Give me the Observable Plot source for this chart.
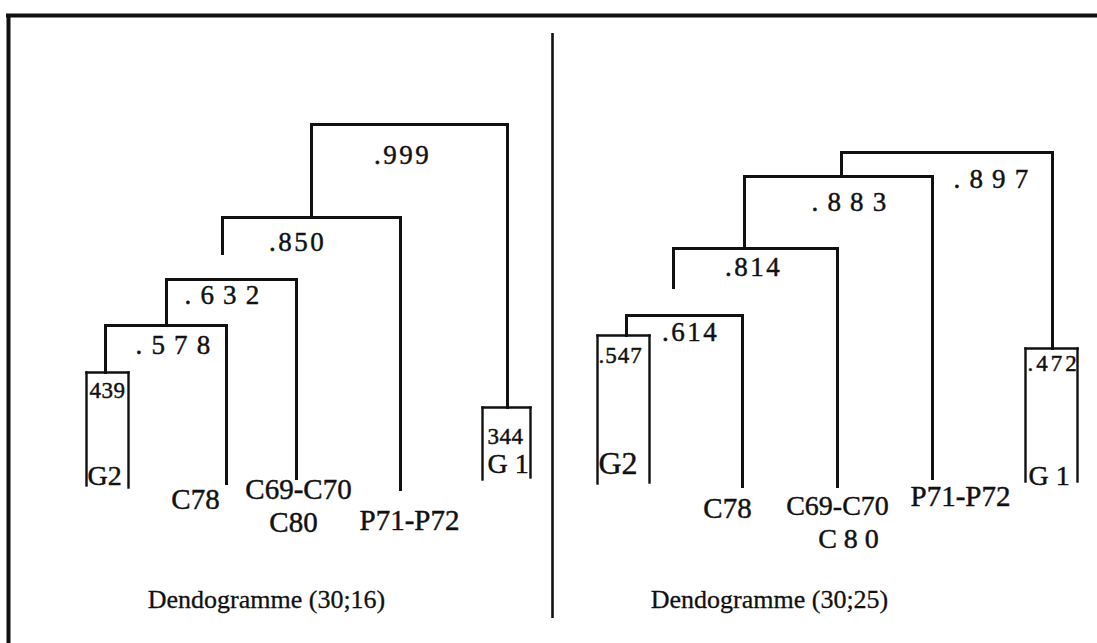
<!DOCTYPE html>
<html>
<head>
<meta charset="utf-8">
<script src="https://cdn.jsdelivr.net/npm/d3@7"></script>
<script src="https://cdn.jsdelivr.net/npm/@observablehq/plot@0.6"></script>
<style>
  html, body { margin: 0; padding: 0; background: #fff; }
  #chart svg { display: block; }
</style>
</head>
<body>
<div id="chart"></div>
<script>
// ================= DATA =================
const titles = ["Dendogramme (30;16)", "Dendogramme (30;25)"];

// ---- Panel 1 : Dendogramme (30;16) ----
// leaf legs: id, horizontal slot, lower end (drawing units)
const p1LegIds  = ["G2a", "G2b", "C78", "C69", "P71", "G1a", "G1b"];
const p1LegPos  = [86, 128, 226, 296, 400, 482, 530];
const p1LegEnd  = [485, 487, 483, 478, 489, 479, 477];
// merges: id, value, level, children, stem position, stem end
const p1NodeIds = ["G2", "n578", "n632", "n850", "G1", "n999"];
const p1Values  = ["439", ". 5 7 8", ". 6 3 2", ".850", "344", ".999"];
const p1Level   = [372, 325, 279, 217, 407, 124];
const p1Left    = ["G2a", "G2", "n578", "n632", "G1a", "n850"];
const p1Right   = ["G2b", "C78", "C69", "P71", "G1b", "G1"];
const p1Stem    = [105, 166, 222, 311, 507, null];
const p1StemEnd = [null, null, 253, null, null, null];
// leaf labels and the leg each is attached to
const p1Leaves  = ["G2", "C78", "C69-C70", "C80", "P71-P72", "G 1"];
const p1LeafLeg = ["G2a", "C78", "C69", "C69", "P71", "G1a"];

// ---- Panel 2 : Dendogramme (30;25) ----
const p2LegIds  = ["G2a", "G2b", "C78", "C69", "P71", "G1a", "G1b"];
const p2LegPos  = [597, 649, 742, 837, 932, 1025, 1077];
const p2LegEnd  = [483, 482, 486, 486, 478, 481, 481];
const p2NodeIds = ["G2", "n614", "n814", "n883", "G1", "n897"];
const p2Values  = [".547", ".614", ".814", ". 8 8 3", ".472", ". 8 9 7"];
const p2Level   = [335, 315, 248, 176, 348, 152];
const p2Left    = ["G2a", "G2", "n614", "n814", "G1a", "n883"];
const p2Right   = ["G2b", "C78", "C69", "P71", "G1b", "G1"];
const p2Stem    = [626, 673, 744, 841, 1052, null];
const p2StemEnd = [null, 287, null, null, null, null];
const p2Leaves  = ["G2", "C78", "C69-C70", "C 8 0", "P71-P72", "G 1"];
const p2LeafLeg = ["G2a", "C78", "C69", "C69", "P71", "G1a"];

// ================= LAYOUT / STYLE (placement only) =================
const W = 1097, H = 643;
const frame = {left: 8, top: 15, dividerX: 552, dividerTop: 33, dividerBottom: 618};
const titleX = [266, 769], titleBaseline = 607;
// value-label nudges [dx, dy] per merge (dy from merge level to baseline)
const p1ValueNudge = [[3, 25], [7.5, 28], [-9, 24], [-14, 33], [5, 36], [-7, 39]];
const p2ValueNudge = [[1, 27], [6, 25], [-2, 27], [11, 34], [2, 22], [44.5, 35]];
// leaf-label nudges [dx, dy] (dy from leg end to baseline)
const p1LeafNudge = [[1, -1], [-31, 25], [2, 20], [-3, 53], [9, 40], [5, -7]];
const p2LeafNudge = [[1, -10], [-15, 31], [0, 28], [11, 61], [28, 27], [3, 3]];
const leafSize1 = [28, 29, 29, 29, 29, 28];
const leafSize2 = [32, 29, 28, 28, 29, 28];
const boxSpacing = {"439": 0.5, "344": 0.5, ".547": 1, ".472": 3};

function buildPanel(P) {
  const xs = new Map(), ends = new Map(), legs = new Set(P.legIds);
  P.legIds.forEach((id, i) => { xs.set(id, P.legPos[i]); ends.set(id, P.legEnd[i]); });
  P.nodeIds.forEach((id, i) => {
    if (P.stem[i] != null) xs.set(id, P.stem[i]);
    ends.set(id, P.stemEnd[i] ?? P.level[i]);
  });
  const segs = [], values = [], leaves = [];
  P.nodeIds.forEach((id, i) => {
    const a = P.left[i], b = P.right[i], lv = P.level[i];
    const xa = xs.get(a), xb = xs.get(b);
    const box = legs.has(a) && legs.has(b);
    segs.push({x1: xa, x2: xb, y1: lv, y2: lv, box});
    segs.push({x1: xa, x2: xa, y1: lv, y2: ends.get(a), box});
    segs.push({x1: xb, x2: xb, y1: lv, y2: ends.get(b), box});
    const [dx, dy] = P.valueNudge[i];
    values.push({
      text: P.values[i], box,
      x: (box ? xa : (xa + xb) / 2) + dx,
      y: lv + dy
    });
  });
  P.leaves.forEach((t, i) => {
    const leg = P.leafLeg[i];
    const [dx, dy] = P.leafNudge[i];
    const box = leg.length === 3 && leg.endsWith("a");
    leaves.push({text: t, box, size: P.leafSize[i], x: xs.get(leg) + dx, y: ends.get(leg) + dy});
  });
  return {segs, values, leaves};
}

const panel1 = buildPanel({
  legIds: p1LegIds, legPos: p1LegPos, legEnd: p1LegEnd,
  nodeIds: p1NodeIds, values: p1Values, level: p1Level, left: p1Left, right: p1Right,
  stem: p1Stem, stemEnd: p1StemEnd, leaves: p1Leaves, leafLeg: p1LeafLeg,
  valueNudge: p1ValueNudge, leafNudge: p1LeafNudge, leafSize: leafSize1
});
const panel2 = buildPanel({
  legIds: p2LegIds, legPos: p2LegPos, legEnd: p2LegEnd,
  nodeIds: p2NodeIds, values: p2Values, level: p2Level, left: p2Left, right: p2Right,
  stem: p2Stem, stemEnd: p2StemEnd, leaves: p2Leaves, leafLeg: p2LeafLeg,
  valueNudge: p2ValueNudge, leafNudge: p2LeafNudge, leafSize: leafSize2
});

const segs = [...panel1.segs, ...panel2.segs];
const values = [...panel1.values, ...panel2.values];
const leaves = [...panel1.leaves, ...panel2.leaves];
const titleData = titles.map((t, i) => ({text: t, x: titleX[i], y: titleBaseline}));

const ink = "#111";
const textInk = {fill: ink, stroke: ink, strokeWidth: 0.45, paintOrder: "normal"};
const chart = Plot.plot({
  width: W, height: H,
  margin: 0,
  x: {domain: [0, W], range: [0, W], axis: null},
  y: {domain: [0, H], range: [0, H], axis: null},
  style: {fontFamily: "'Liberation Serif', 'Times New Roman', serif", background: "#fff", color: ink, overflow: "visible"},
  marks: [
    // frame
    Plot.ruleY([frame.top], {x1: frame.left - 2, x2: W, stroke: ink, strokeWidth: 4}),
    Plot.ruleX([frame.left], {y1: frame.top, y2: H, stroke: ink, strokeWidth: 4}),
    Plot.ruleX([frame.dividerX], {y1: frame.dividerTop, y2: frame.dividerBottom, stroke: ink, strokeWidth: 2.6}),
    // dendrogram brackets
    Plot.link(segs.filter(d => !d.box), {x1: "x1", y1: "y1", x2: "x2", y2: "y2", stroke: ink, strokeWidth: 3, strokeLinecap: "square"}),
    Plot.link(segs.filter(d => d.box), {x1: "x1", y1: "y1", x2: "x2", y2: "y2", stroke: ink, strokeWidth: 2.4, strokeLinecap: "square"}),
    // merge values
    Plot.text(values.filter(d => !d.box), {x: "x", y: "y", text: "text", textAnchor: "middle", lineAnchor: "bottom", fontSize: 27, ...textInk}),
    Plot.text(values.filter(d => d.box), {x: "x", y: "y", text: "text", textAnchor: "start", lineAnchor: "bottom", fontSize: 23, ...textInk}),
    // leaf labels
    Plot.text(leaves.filter(d => !d.box), {x: "x", y: "y", text: "text", textAnchor: "middle", lineAnchor: "bottom", fontSize: d => d.size, ...textInk}),
    Plot.text(leaves.filter(d => d.box), {x: "x", y: "y", text: "text", textAnchor: "start", lineAnchor: "bottom", fontSize: d => d.size, ...textInk}),
    // panel titles
    Plot.text(titleData, {x: "x", y: "y", text: "text", textAnchor: "middle", lineAnchor: "bottom", fontSize: 26, fill: ink, stroke: ink, strokeWidth: 0.3, paintOrder: "normal"})
  ]
});
const bracketValues = new Set(values.filter(d => !d.box).map(d => d.text));
d3.select(chart).selectAll("text").each(function () {
  const t = this.textContent;
  if (bracketValues.has(t)) this.setAttribute("letter-spacing", t.includes(" ") ? "1.2" : "2.5");
  else if (t in boxSpacing) this.setAttribute("letter-spacing", String(boxSpacing[t]));
});
document.getElementById("chart").appendChild(chart);
</script>
</body>
</html>
